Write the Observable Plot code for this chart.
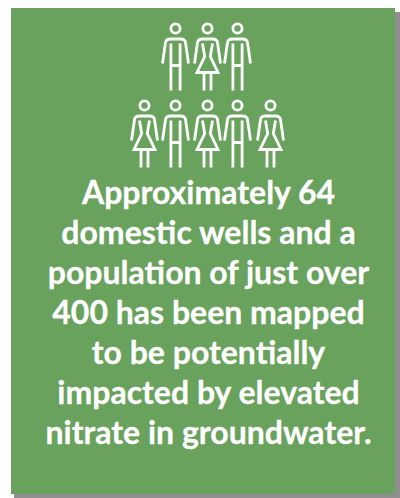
<!DOCTYPE html>
<html><head><meta charset="utf-8">
<script src="https://cdn.jsdelivr.net/npm/d3@7"></script>
<script src="https://cdn.jsdelivr.net/npm/@observablehq/plot@0.6"></script>
<style>html,body{margin:0;padding:0;background:#fff}svg{display:block}</style>
</head><body><div id="c"></div>
<script>
const menX=[175,237,175,237];
const menY=[28,28,105,105];
const womenX=[207,144,207,270];
const womenY=[28,105,105,105];
const lines=["Approximately 64","domestic wells and a","population of just over","400 has been mapped","to be potentially","impacted by elevated","nitrate in groundwater."];
const lineY=[193,233,273,313,353,393,433];
const panel=[{x1:11,x2:395,y1:8,y2:494}];
const shadow=[{x1:14,x2:400,y1:12,y2:498}];
const men=menX.map((x,i)=>({x,y:menY[i]}));
const women=womenX.map((x,i)=>({x,y:womenY[i]}));
const text=lines.map((t,i)=>({t,y:lineY[i]}));
const body=c=>{c.moveTo(4.6,0);c.arc(0,0,4.6,0,Math.PI*2);
 c.moveTo(-13,35);c.lineTo(-10,14);c.quadraticCurveTo(-9.5,10.5,-5,10.5);c.lineTo(5,10.5);c.quadraticCurveTo(9.5,10.5,10,14);c.lineTo(13,35);};
const man={draw(c){body(c);
 c.moveTo(-4.6,15);c.lineTo(-4.6,62);c.moveTo(4.6,15);c.lineTo(4.6,62);c.moveTo(-4.6,37);c.lineTo(4.6,37);}};
const woman={draw(c){body(c);
 c.moveTo(-5,15);c.lineTo(-2.8,28);c.lineTo(-10.5,44);c.lineTo(10.5,44);c.lineTo(2.8,28);c.lineTo(5,15);
 c.moveTo(-3.5,44);c.lineTo(-3.5,62);c.moveTo(3.5,44);c.lineTo(3.5,62);}};
const plot=Plot.plot({width:400,height:498,margin:0,
 x:{domain:[0,400],range:[0,400],axis:null},
 y:{domain:[0,498],range:[0,498],axis:null},
 marks:[
  Plot.rect(shadow,{x1:"x1",x2:"x2",y1:"y1",y2:"y2",fill:"#8f8f8f",style:"filter:blur(2.5px)"}),
  Plot.rect(panel,{x1:"x1",x2:"x2",y1:"y1",y2:"y2",fill:"#68a25c"}),
  Plot.dot(men,{x:"x",y:"y",symbol:man,r:1,stroke:"white",strokeWidth:2.8,fill:"none"}),
  Plot.dot(women,{x:"x",y:"y",symbol:woman,r:1,stroke:"white",strokeWidth:2.8,fill:"none"}),
  Plot.text(text,{x:()=>208,y:"y",text:"t",fill:"white",stroke:"white",strokeWidth:0.3,fontSize:32,fontWeight:700,fontFamily:"Lato",textAnchor:"middle"})
 ]});
document.getElementById("c").append(plot);
</script></body></html>
